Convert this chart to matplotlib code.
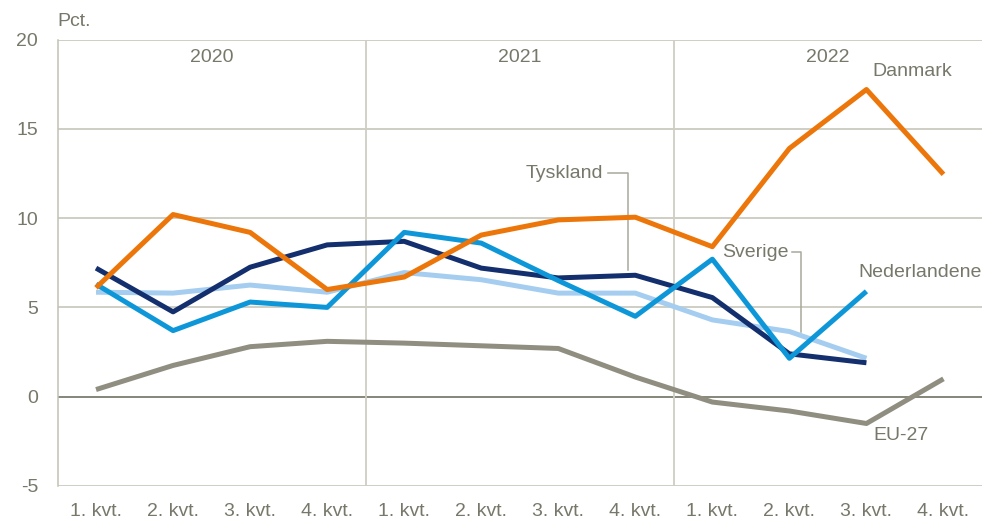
import numpy as np
import matplotlib.pyplot as plt
from matplotlib import font_manager

# data (pct., quarterly 2020-2022)
quarters = ['1. kvt.', '2. kvt.', '3. kvt.', '4. kvt.'] * 3
years = ['2020', '2021', '2022']
danmark = [6.1, 10.2, 9.2, 6.0, 6.7, 9.05, 9.9, 10.05, 8.4, 13.9, 17.2, 12.45]
tyskland = [7.2, 4.75, 7.25, 8.5, 8.7, 7.2, 6.65, 6.8, 5.55, 2.4, 1.9]
nederlandene = [6.3, 3.7, 5.3, 5.0, 9.2, 8.6, 6.5, 4.5, 7.7, 2.15, 5.9]
sverige = [5.85, 5.8, 6.25, 5.85, 6.95, 6.55, 5.8, 5.8, 4.3, 3.65, 2.15]
eu27 = [0.4, 1.75, 2.8, 3.1, 3.0, 2.85, 2.7, 1.1, -0.3, -0.8, -1.5, 1.0]

installed = {f.name for f in font_manager.fontManager.ttflist}
fam = 'Liberation Sans Narrow' if 'Liberation Sans Narrow' in installed else 'Liberation Sans'
plt.rcParams['font.family'] = [fam, 'DejaVu Sans']
plt.rcParams['axes.unicode_minus'] = False

txt = '#77776a'
grid = '#c2c1b4'
fs = 14

fig = plt.figure(figsize=(9.82, 5.21), dpi=100)
ax = fig.add_axes([57.5 / 982, 1 - 486 / 521, 1 - 57.5 / 982, (486 - 39.5) / 521])

ax.set_xlim(-0.5, 11.5)
ax.set_ylim(-5, 20)
ax.set_yticks([-5, 0, 5, 10, 15, 20])
ax.set_xticks(range(12))
ax.set_xticklabels(quarters)

for y in [5, 10, 15, 20, -5]:
    ax.axhline(y, color=grid, lw=1.1, zorder=1)
ax.axhline(0, color='#7d7c6f', lw=1.3, zorder=1)
for xv in [3.5, 7.5]:
    ax.axvline(xv, color='#cfcec4', lw=1.3, zorder=1)

for s in ['top', 'right', 'bottom']:
    ax.spines[s].set_visible(False)
ax.spines['left'].set_color(grid)
ax.spines['left'].set_linewidth(1.1)
ax.tick_params(length=0, colors=txt, labelsize=fs)
ax.tick_params(axis='y', pad=14)
ax.tick_params(axis='x', pad=12)

lw = 3.6
ax.plot(range(len(eu27)), eu27, color='#8f8e80', lw=lw, solid_capstyle='butt', zorder=3)
ax.plot(range(len(sverige)), sverige, color='#a5cdf0', lw=lw, solid_capstyle='butt', zorder=4)
ax.plot(range(len(tyskland)), tyskland, color='#142f6e', lw=lw, solid_capstyle='butt', zorder=5)
ax.plot(range(len(nederlandene)), nederlandene, color='#0e97d8', lw=lw, solid_capstyle='butt', zorder=6)
ax.plot(range(len(danmark)), danmark, color='#ec7609', lw=lw, solid_capstyle='butt', zorder=7)

# year labels
for i, yr in enumerate(years):
    ax.text(1.5 + 4 * i, 19.0, yr, ha='center', va='center', fontsize=fs, color=txt)

fig.text(57 / 982, 1 - 22 / 521, 'Pct.', ha='left', va='center', fontsize=fs, color=txt)

# series labels
ax.text(10.6, 18.2, 'Danmark', ha='center', va='center', fontsize=fs, color=txt)
ax.text(10.7, 6.95, 'Nederlandene', ha='center', va='center', fontsize=fs, color=txt)
ax.text(10.45, -2.2, 'EU-27', ha='center', va='center', fontsize=fs, color=txt)

ax.text(6.58, 12.5, 'Tyskland', ha='right', va='center', fontsize=fs, color=txt)
ax.plot([6.64, 6.9, 6.9], [12.5, 12.5, tyskland[7] + 0.3], color='#a9a89b', lw=1.1, zorder=2)

ax.text(8.99, 8.1, 'Sverige', ha='right', va='center', fontsize=fs, color=txt)
ax.plot([9.04, 9.15, 9.15], [8.1, 8.1, 3.6], color='#a9a89b', lw=1.1, zorder=2)

fig.savefig('out.png', dpi=100)
